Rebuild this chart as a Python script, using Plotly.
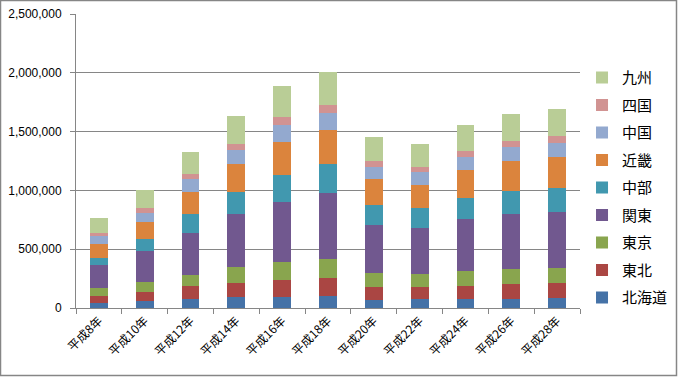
import plotly.graph_objects as go

years = ["平成8年", "平成10年", "平成12年", "平成14年", "平成16年", "平成18年",
         "平成20年", "平成22年", "平成24年", "平成26年", "平成28年"]

hokkaido = [42000, 59000, 79000, 93000, 93000, 105000, 71000, 76000, 76000, 76000, 88000]
tohoku = [63000, 79000, 107000, 119000, 147000, 152000, 107000, 102000, 110000, 127000, 124000]
tokyo = [67000, 85000, 94000, 135000, 153000, 158000, 119000, 110000, 128000, 128000, 127000]
kanto = [195000, 263000, 358000, 453000, 508000, 560000, 406000, 390000, 440000, 469000, 475000]
chubu = [60000, 99000, 162000, 185000, 232000, 248000, 170000, 170000, 181000, 192000, 206000]
kinki = [118000, 147000, 186000, 238000, 277000, 288000, 223000, 194000, 237000, 257000, 263000]
chugoku = [71000, 76000, 110000, 119000, 147000, 147000, 105000, 113000, 113000, 121000, 121000]
shikoku = [22000, 42000, 42000, 51000, 67000, 68000, 48000, 46000, 51000, 51000, 59000]
kyushu = [125000, 150000, 187000, 237000, 260000, 277000, 203000, 192000, 218000, 226000, 226000]

series_names = ["北海道", "東北", "東京", "関東", "中部", "近畿", "中国", "四国", "九州"]
series_values = [hokkaido, tohoku, tokyo, kanto, chubu, kinki, chugoku, shikoku, kyushu]
colors = ["#4572A7", "#AA4643", "#89A54E", "#71588F", "#4198AF",
          "#DB843D", "#93A9CF", "#D19392", "#B9CD96"]

W, H = 678, 377
L, R, T, B = 76, 98, 14, 69

fig = go.Figure()
n = len(series_names)
for i, (name, vals, col) in enumerate(zip(series_names, series_values, colors)):
    fig.add_trace(go.Bar(x=years, y=vals, name=name, marker_color=col,
                         marker_line_width=0, legendgroup=name,
                         legendrank=n - i))

pw = W - L - R
ph = H - T - B
fig.add_shape(type="rect", xref="paper", yref="paper",
              x0=(0.5 - L) / pw, x1=(W - 1.5 - L) / pw,
              y0=-(B - 1.5) / ph,
              y1=1 + (T - 0.5) / ph,
              line=dict(color="#868686", width=1.5), layer="below")

fig.update_layout(
    width=W, height=H,
    margin=dict(l=L, r=R, t=T, b=B, pad=0, autoexpand=False),
    barmode="stack",
    bargap=0.61,
    plot_bgcolor="white",
    paper_bgcolor="white",
    font=dict(family="Liberation Sans, Arial", size=12, color="black"),
    showlegend=True,
    legend=dict(
        x=1.004, y=0.839, xanchor="left", yanchor="top",
        xref="paper", yref="paper",
        traceorder="grouped",
        tracegroupgap=5,
        font=dict(family="Noto Sans CJK JP", size=15, color="black"),
        itemwidth=30,
        bgcolor="rgba(0,0,0,0)",
    ),
    xaxis=dict(
        tickangle=-45,
        showline=True, linecolor="#868686", linewidth=1,
        ticks="outside", ticklen=5, tickcolor="#868686",
        tickson="boundaries",
        tickfont=dict(family="Noto Sans CJK JP", size=12),
        showgrid=False,
        automargin=False,
    ),
    yaxis=dict(
        range=[0, 2500000],
        dtick=500000,
        tickformat=",d",
        showline=True, linecolor="#868686", linewidth=1,
        ticks="outside", ticklen=5, tickcolor="#868686",
        gridcolor="#868686", gridwidth=1,
        zeroline=False,
        tickfont=dict(family="Liberation Sans, Arial", size=12),
        ticklabelstandoff=6,
        automargin=False,
    ),
)

fig.write_html("out.html",
               config={"displayModeBar": False},
               post_script="document.body.style.margin='0';document.body.style.overflow='hidden';")
